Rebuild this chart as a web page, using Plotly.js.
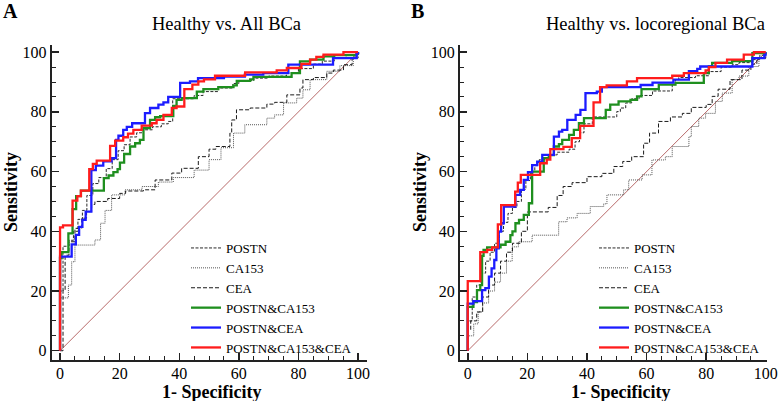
<!DOCTYPE html>
<html>
<head>
<meta charset="utf-8">
<script src="https://cdn.plot.ly/plotly-3.0.1.min.js"></script>
<style>html,body{margin:0;padding:0;background:#fff;}#chart{width:780px;height:401px;}</style>
</head>
<body>
<div id="chart"></div>
<script>
// ---------- Data (1-Specificity %, Sensitivity %) ----------
const seriesNames = ["POSTN", "CA153", "CEA", "POSTN&CA153", "POSTN&CEA", "POSTN&CA153&CEA"];
const panelTitles = ["Healthy vs. All BCa", "Healthy vs. locoregional BCa"];
const panelLetters = ["A", "B"];
const diagX = [0, 100];
const diagY = [0, 100];

// Panel A
const A_POSTN_x = [0, 0, 1, 3, 4.5, 6, 7.5, 9, 11, 13, 15.5, 17.5, 19.5, 21.5, 23.5, 25.7, 27.5, 31, 34, 36.3, 37.8, 45, 48, 53, 58, 60, 65, 70, 76, 80, 85, 88, 92, 96, 100];
const A_POSTN_y = [0, 20, 35, 37, 40, 44, 47, 52, 56, 58, 61, 64, 67, 69, 71.6, 73, 74, 75, 76, 76.8, 84.4, 85.5, 86.8, 88, 89.5, 90.5, 91.3, 92, 93, 94.5, 96, 97, 98, 99, 100];
const A_CA153_x = [0, 0, 2.8, 3.9, 5, 11.7, 13.6, 15.1, 17.3, 21.8, 27.5, 33, 38, 45, 50, 54, 58.2, 62, 69.4, 72, 75, 79.4, 81.5, 83.9, 89.5, 93.9, 98.4, 100];
const A_CA153_y = [0, 17.7, 22, 29.8, 35.4, 37.1, 42.7, 47, 52.2, 53.9, 55, 56.5, 58, 60.5, 64, 68, 72.9, 75.7, 77.9, 79, 83, 84.6, 87.4, 90.8, 93.6, 95.5, 98.6, 100];
const A_CEA_x = [0, 1, 1.7, 3, 5, 7.3, 8.9, 10.6, 11.7, 16, 20, 22, 28, 31.9, 37.5, 40.8, 46.4, 50, 52.3, 57, 57.6, 59.2, 63.8, 69.4, 72, 76.1, 80.5, 81.5, 85, 89.5, 91.7, 95.1, 98, 100];
const A_CEA_y = [0, 20.3, 32, 36.5, 41, 44.4, 46.6, 49, 50, 51, 52.7, 53.5, 53.9, 57.2, 59.5, 61.1, 65, 67.5, 68.4, 72.9, 77.3, 80.7, 81.3, 82.6, 83.2, 85.7, 88, 90.8, 91.5, 93, 94, 95.8, 98, 100];
const A_PC_x = [0, 0, 0.5, 2.8, 4.2, 5.4, 7, 14.7, 16.3, 17.9, 19.3, 20.1, 21.5, 23.5, 25.2, 26.8, 28, 30.2, 31.9, 33.6, 38, 39.1, 40.8, 45.9, 48.1, 53.1, 58.2, 59.3, 63.8, 64.9, 77.7, 80.5, 83.9, 88.4, 92, 99.5, 100];
const A_PC_y = [0, 31, 33, 39.3, 47.4, 51.8, 53.6, 57.8, 58.7, 59.8, 60.8, 63, 65.9, 68.4, 69.5, 70.6, 74.6, 77.3, 78.2, 78.6, 82, 84, 84.6, 86.8, 87.6, 88.3, 88.9, 90.4, 90.9, 91.7, 93, 96.9, 97.5, 98.6, 99, 99.7, 100];
const A_PE_x = [0, 0, 3.9, 5.3, 6.4, 7.5, 8.6, 10.5, 12, 14.5, 17.3, 18.8, 19.6, 21.2, 22.4, 24.2, 28.5, 30.2, 33, 34.7, 36.3, 40.3, 43.6, 46.3, 55, 62, 68.2, 76.6, 91.6, 99.5, 100];
const A_PE_y = [0, 31.5, 35.6, 38.8, 41.5, 43.8, 46.6, 60.5, 62, 63.4, 64.5, 70.6, 72, 74, 75, 76.2, 79.6, 81.3, 82.4, 83.2, 85, 89.7, 90.2, 91.3, 91.8, 92.5, 93, 95.8, 98, 99.7, 100];
const A_PCE_x = [0, 0, 1, 4.2, 5.8, 7, 9.8, 11, 12.3, 16.8, 18.5, 21.2, 22.8, 24.6, 27.4, 30.8, 32.4, 34.7, 37.5, 39.1, 41.7, 44.4, 46.4, 48.3, 52, 62.1, 72.7, 76.1, 81, 83.9, 86, 88.4, 95.1, 100];
const A_PCE_y = [0, 41.3, 42, 50.3, 51.8, 53.6, 60.8, 62.6, 63.7, 68.6, 70.4, 71.5, 72.7, 74, 75.4, 76.2, 77.3, 79, 81.3, 81.8, 87.6, 89.1, 90.2, 90.9, 92.1, 93.2, 93.9, 94.7, 96.1, 97.5, 98.4, 99.2, 100, 100];

// Panel B
const B_POSTN_x = [0, 0, 1.5, 3, 4.5, 6, 7.5, 9, 10.5, 12, 13.5, 15, 16.5, 18, 19.5, 21, 22.5, 24, 26.7, 30, 34, 36, 37.5, 39, 41.8, 48.5, 50, 51.2, 53, 55, 57.5, 62, 68.6, 69.7, 70.8, 76.4, 80.9, 85, 88.7, 91, 95.5, 98, 100];
const B_POSTN_y = [0, 10, 18, 22, 26, 30, 33, 36, 40, 43, 46, 48, 50, 54, 57, 60, 62, 64, 65.6, 66.5, 67.5, 70, 73, 76, 78.3, 78.3, 80.1, 81.3, 83, 84.4, 85.5, 87, 89.1, 90.8, 91.5, 92.1, 93.5, 95, 95.8, 96.5, 97.5, 99, 100];
const B_CA153_x = [0, 0, 2, 3.5, 5, 7, 9, 11, 13, 14.9, 17, 21.6, 30.5, 33.3, 36.7, 41.1, 45.6, 46.7, 52.3, 54, 58.5, 61.8, 66.3, 68.6, 74.2, 75, 77.5, 79.8, 83.1, 85.4, 88.7, 91, 94.3, 97.7, 100];
const B_CA153_y = [0, 5, 9, 13, 16, 20, 23, 26, 30, 34.8, 36.5, 38.7, 43.2, 44.5, 46, 48.3, 49.2, 52.2, 53.9, 57.2, 58.9, 63.9, 65, 68.4, 71.7, 75.1, 77.9, 79.5, 83.5, 86.3, 90.8, 92, 95.2, 98, 100];
const B_CEA_x = [0, 0, 1, 3, 5, 7, 9, 11, 13, 15, 18, 20, 27, 30, 32, 35, 40, 45, 49, 52, 55, 59, 61, 64, 68, 72, 75, 80, 82, 84, 88, 92, 95, 97, 100];
const B_CEA_y = [0, 7, 10, 13, 18, 22, 26, 30, 33, 36, 40, 46.5, 48, 52, 55, 56.3, 58.3, 59.4, 61.7, 63.4, 65, 69.5, 72.9, 76.8, 78.3, 79.5, 81.5, 82.5, 85.2, 87.6, 90.8, 94, 96, 98, 100];
const B_PC_x = [0, 0, 1.9, 3.1, 4.2, 4.8, 5.3, 6.5, 11, 12.7, 14.3, 15, 16, 17.2, 18.8, 20.5, 21.6, 25.5, 27.2, 28.9, 30.6, 31.7, 34, 35.6, 37.3, 39, 46.3, 47.8, 50.6, 54.6, 56.8, 58.3, 64.1, 69.7, 79.2, 80.9, 82, 88.7, 95.5, 100];
const B_PC_y = [0, 14.7, 16.3, 20.3, 22, 31.8, 33.8, 34.6, 35.5, 36.5, 38.7, 40, 42.7, 43.8, 45.5, 49.4, 60, 64.5, 65.5, 68.4, 69.2, 70.6, 72.3, 74, 76.2, 77.9, 80.7, 82.4, 83.5, 84, 85.2, 87.6, 89.1, 89.7, 93, 95.2, 96.4, 97, 99.7, 100];
const B_PE_x = [0, 0, 1.9, 4.8, 5.9, 7.1, 8, 8.9, 9.6, 10.4, 11.2, 12.1, 16, 17.6, 18.8, 20.2, 21.6, 23.3, 25, 28.9, 30.6, 31.7, 33.4, 36.2, 37.8, 39.5, 43.3, 45, 58, 62, 69, 74.2, 77, 78, 95.5, 99.5, 100];
const B_PE_y = [0, 15.8, 16.6, 20.3, 21, 24.8, 27.6, 30.4, 34.3, 39.9, 42.7, 48.3, 52.2, 53.9, 57.2, 59.8, 62.2, 63.3, 65.6, 71.7, 73.4, 74, 77.3, 79, 80.7, 86.3, 86.8, 88.3, 89, 89.8, 90.8, 93.6, 94.4, 95.2, 98, 99, 100];
const B_PCE_x = [0, 0, 4.2, 6.5, 8.2, 10.1, 11.2, 15.9, 16.8, 17.8, 24.3, 26.5, 27.7, 32.1, 34.9, 37.7, 42.2, 44.4, 46.6, 53.4, 56.8, 68.6, 72.5, 79.8, 80.9, 83.1, 87, 92.6, 96, 100];
const B_PCE_y = [0, 23.3, 33, 33.8, 34.6, 42.3, 48.8, 53.3, 56.3, 58.9, 62.8, 64, 67.5, 68.3, 71.2, 75.3, 83.2, 88.3, 88.9, 90.2, 91.3, 92.1, 93, 93.9, 95, 96.4, 97.5, 99.2, 100, 100];

const tickVals = [0, 20, 40, 60, 80, 100];
const tickText = ["0", "20", "40", "60", "80", "100"];
const minorTickVals = [5, 10, 15, 25, 30, 35, 45, 50, 55, 65, 70, 75, 85, 90, 95];

// ---------- Styles ----------
const FONT = "Liberation Serif, 'Times New Roman', Times, serif";
const styles = [
  {color: "#2a2a2a", width: 1, dash: "3px,1.5px"},
  {color: "#555555", width: 1, dash: "1px,1px"},
  {color: "#1a1a1a", width: 1, dash: "4px,2px"},
  {color: "#1f8f1f", width: 2.3, dash: "solid"},
  {color: "#1c1cff", width: 2.3, dash: "solid"},
  {color: "#ff1c1c", width: 2.3, dash: "solid"}
];

const panels = [
  {xs: [A_POSTN_x, A_CA153_x, A_CEA_x, A_PC_x, A_PE_x, A_PCE_x],
   ys: [A_POSTN_y, A_CA153_y, A_CEA_y, A_PC_y, A_PE_y, A_PCE_y], xa: "x", ya: "y", lg: "legend"},
  {xs: [B_POSTN_x, B_CA153_x, B_CEA_x, B_PC_x, B_PE_x, B_PCE_x],
   ys: [B_POSTN_y, B_CA153_y, B_CEA_y, B_PC_y, B_PE_y, B_PCE_y], xa: "x2", ya: "y2", lg: "legend2"}
];

const traces = [];
panels.forEach(p => {
  traces.push({x: diagX, y: diagY, xaxis: p.xa, yaxis: p.ya, mode: "lines",
    line: {color: "#b86a6a", width: 1}, showlegend: false, hoverinfo: "skip"});
  seriesNames.forEach((nm, i) => {
    traces.push({x: p.xs[i], y: p.ys[i], xaxis: p.xa, yaxis: p.ya, name: nm, legend: p.lg,
      mode: "lines", line: {shape: "hv", color: styles[i].color, width: styles[i].width, dash: styles[i].dash}});
  });
});

function axisBase(domain, range) {
  return {
    domain: domain, range: range, showgrid: false, zeroline: false,
    showline: true, linecolor: "#222", linewidth: 2,
    ticks: "inside", ticklen: 7, tickwidth: 1.5, tickcolor: "#222",
    tickvals: tickVals, ticktext: tickText,
    tickfont: {family: FONT, size: 16, color: "#000"},
    minor: {tickvals: minorTickVals, ticklen: 4, tickwidth: 1, tickcolor: "#222", ticks: "inside"},
    fixedrange: true
  };
}

const W = 780, H = 401;
const px = v => v / W;
const py = v => 1 - v / H;

const yDom = [py(360), py(45)];
const legendStyle = {xanchor: "left", yanchor: "top", bgcolor: "rgba(0,0,0,0)",
  font: {family: FONT, size: 13, color: "#000"}, tracegroupgap: 0};
const layout = {
  width: W, height: H,
  margin: {l: 0, r: 0, t: 0, b: 0},
  paper_bgcolor: "#fff", plot_bgcolor: "#fff",
  font: {family: FONT, color: "#000"},
  xaxis: Object.assign(axisBase([px(51.7), px(366.7)], [-2.8, 102.9]), {anchor: "y", ticklabelstandoff: -2}),
  yaxis: Object.assign(axisBase(yDom, [-3.1, 102.4]), {anchor: "x"}),
  xaxis2: Object.assign(axisBase([px(460), px(766.7)], [-2.6, 100.3]), {anchor: "y2", ticklabelstandoff: -2}),
  yaxis2: Object.assign(axisBase(yDom, [-3.1, 102.4]), {anchor: "x2"}),
  legend: Object.assign({x: px(186), y: py(233)}, legendStyle),
  legend2: Object.assign({x: px(594), y: py(233)}, legendStyle),
  annotations: [
    {text: "<b>" + panelLetters[0] + "</b>", x: px(1), y: py(11), xref: "paper", yref: "paper", xanchor: "left", yanchor: "middle", showarrow: false, font: {family: FONT, size: 20}},
    {text: "<b>" + panelLetters[1] + "</b>", x: px(409), y: py(11), xref: "paper", yref: "paper", xanchor: "left", yanchor: "middle", showarrow: false, font: {family: FONT, size: 20}},
    {text: panelTitles[0], x: px(226.7), y: py(24), xref: "paper", yref: "paper", xanchor: "center", yanchor: "middle", showarrow: false, font: {family: FONT, size: 18.5}},
    {text: panelTitles[1], x: px(655.3), y: py(24), xref: "paper", yref: "paper", xanchor: "center", yanchor: "middle", showarrow: false, font: {family: FONT, size: 18.5}},
    {text: "<b>Sensitivity</b>", x: px(11), y: py(192), xref: "paper", yref: "paper", xanchor: "center", yanchor: "middle", textangle: -90, showarrow: false, font: {family: FONT, size: 18}},
    {text: "<b>Sensitivity</b>", x: px(420), y: py(192), xref: "paper", yref: "paper", xanchor: "center", yanchor: "middle", textangle: -90, showarrow: false, font: {family: FONT, size: 18}},
    {text: "<b>1- Specificity</b>", x: px(211.3), y: py(392), xref: "paper", yref: "paper", xanchor: "center", yanchor: "middle", showarrow: false, font: {family: FONT, size: 18}},
    {text: "<b>1- Specificity</b>", x: px(620), y: py(392), xref: "paper", yref: "paper", xanchor: "center", yanchor: "middle", showarrow: false, font: {family: FONT, size: 18}}
  ]
};

Plotly.newPlot("chart", traces, layout, {displayModeBar: false, staticPlot: true});
</script>
</body>
</html>
